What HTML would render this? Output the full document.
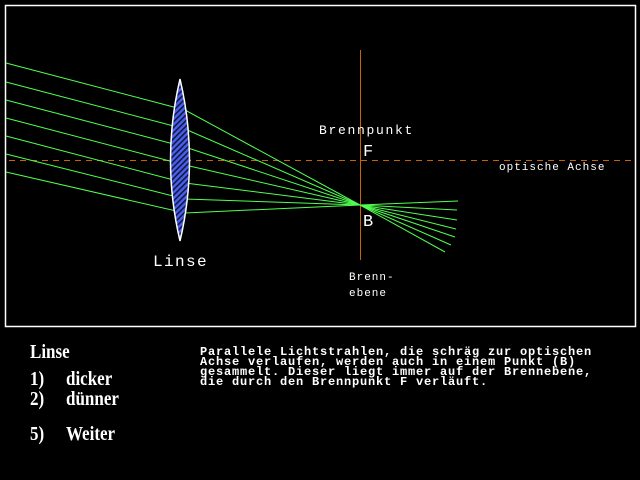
<!DOCTYPE html>
<html><head><meta charset="utf-8"><style>
html,body{margin:0;padding:0;background:#000;width:640px;height:480px;overflow:hidden}
.t{position:absolute;color:#fff;white-space:pre;font-family:"Liberation Mono",monospace}
.s{position:absolute;color:#fff;white-space:pre;font-family:"Liberation Serif",serif;font-size:20px;line-height:20px;font-weight:bold;transform:scaleX(0.85);transform-origin:0 0}
</style></head><body>
<svg width="640" height="480" style="position:absolute;left:0;top:0">
<defs>
<pattern id="h" width="4" height="4" patternUnits="userSpaceOnUse" patternTransform="rotate(45)">
<rect width="4" height="4" fill="#4a5ef0"/><rect width="1.6" height="4" fill="#101838"/>
</pattern>
</defs>
<rect x="5.5" y="5.5" width="630" height="321" fill="none" stroke="#fff" stroke-width="1.5"/>
<line x1="360.5" y1="50" x2="360.5" y2="260" stroke="#c86400" stroke-width="1"/>
<line x1="9" y1="160.5" x2="635" y2="160.5" stroke="#c86400" stroke-width="1" stroke-dasharray="6,5"/>
<g stroke="#50ff50" stroke-width="1" fill="none">
<polyline points="6,63 185,110 360,205 445,252"/>
<polyline points="6,82 185,129 360,205 451,245"/>
<polyline points="6,100 185,147 360,205 455,237"/>
<polyline points="6,118 185,165 360,205 456,229"/>
<polyline points="6,136 185,183 360,205 457,220"/>
<polyline points="6,154 185,199 360,205 457,210"/>
<polyline points="6,172 185,213 360,205 458,201"/>
</g>
<path d="M180,79 Q199,160 180,241 Q161,160 180,79 Z" fill="url(#h)" stroke="#fff" stroke-width="1.5"/>
</svg>
<div class="t" style="left:319px;top:123px;font-size:13px;letter-spacing:1.7px">Brennpunkt</div>
<div class="t" style="left:363px;top:143px;font-size:17px">F</div>
<div class="t" style="left:363px;top:213px;font-size:17px">B</div>
<div class="t" style="left:499px;top:162px;font-size:11px;letter-spacing:1px">optische Achse</div>
<div class="t" style="left:153px;top:253px;font-size:16px;letter-spacing:1.4px">Linse</div>
<div class="t" style="left:349px;top:270px;font-size:11px;line-height:16px;letter-spacing:1px">Brenn-
ebene</div>
<div class="s" style="left:30px;top:342px">Linse</div>
<div class="s" style="left:30px;top:369px">1)</div><div class="s" style="left:66px;top:369px">dicker</div>
<div class="s" style="left:30px;top:389px">2)</div><div class="s" style="left:66px;top:389px">dünner</div>
<div class="s" style="left:30px;top:424px">5)</div><div class="s" style="left:66px;top:424px">Weiter</div>
<div class="t" style="left:200px;top:347px;font-size:12px;line-height:10px;letter-spacing:0.8px;font-weight:bold">Parallele Lichtstrahlen, die schräg zur optischen
Achse verlaufen, werden auch in einem Punkt (B)
gesammelt. Dieser liegt immer auf der Brennebene,
die durch den Brennpunkt F verläuft.</div>
</body></html>
